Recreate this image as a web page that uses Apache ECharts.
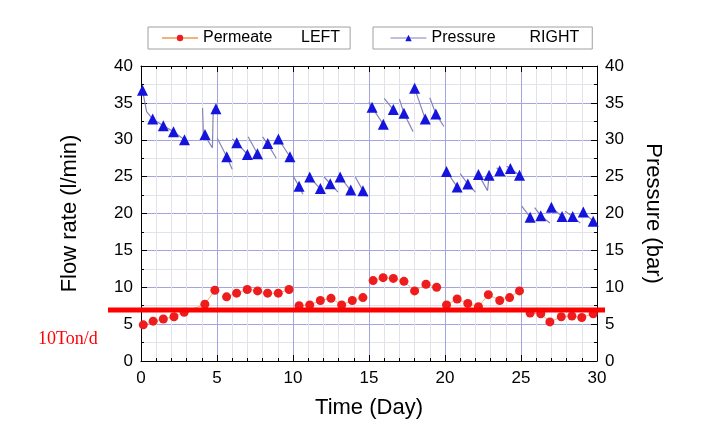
<!DOCTYPE html>
<html>
<head>
<meta charset="utf-8">
<script src="https://cdn.jsdelivr.net/npm/echarts@6/dist/echarts.min.js"></script>
<style>html,body{margin:0;padding:0;background:#fff}#c{width:703px;height:424px}</style>
</head>
<body>
<div id="c"></div>
<script>
// ---- data ----
var xTicks = [0, 5, 10, 15, 20, 25, 30];
var yTicks = [0, 5, 10, 15, 20, 25, 30, 35, 40];

var permeateDays = [0.15,0.8,1.47,2.17,2.84,4.2,4.86, 5.63,6.29,6.99,7.67,8.33,9.03,9.74,
  10.4,11.1,11.8,12.5,13.2,13.9,14.6, 15.27,15.93,16.6,17.3,18.0,18.75,19.45,
  20.1,20.8,21.5,22.2,22.85,23.6,24.25,24.9, 25.6,26.3,26.9,27.65,28.35,29.0,29.75];
var permeateFlow = [4.9,5.4,5.7,6.0,6.6,7.7,9.6, 8.7,9.2,9.7,9.5,9.2,9.2,9.7,
  7.5,7.6,8.2,8.5,7.6,8.2,8.6, 10.9,11.3,11.2,10.8,9.5,10.4,10.0,
  7.6,8.4,7.8,7.35,9.0,8.2,8.6,9.5, 6.5,6.4,5.3,6.0,6.1,5.9,6.4];

var pressureDays = [0.1,0.77,1.47,2.14,2.86, 4.21,4.93,5.64,6.3,7.0,7.66,8.34,9.04,9.8,
  10.4,11.1,11.8,12.45,13.1,13.8,14.6, 15.2,15.94,16.6,17.3,18.0,18.7,19.4,
  20.1,20.8,21.5,22.2,22.9,23.6,24.3,24.9, 25.6,26.3,27.0,27.7,28.4,29.1,29.75];
var pressureBar = [36.7,32.8,31.9,31.1,30.0, 30.7,34.2,27.7,29.6,28.0,28.1,29.5,30.1,27.7,
  23.7,24.95,23.4,24.05,24.95,23.2,23.1, 34.4,32.1,34.1,33.6,37.0,32.8,33.5,
  25.7,23.6,24.0,25.3,25.2,25.8,26.1,25.2, 19.5,19.7,20.85,19.6,19.6,20.2,18.96];

// continuous pressure recording (sawtooth traces) between daily readings
var pressureTrace = [
  [[0.1,36.7],[0.37,33.8],[0.77,32.8],[1.47,31.9],[2.14,31.1],[2.86,30.0]],
  [[4.05,34.3],[4.1,30.9],[4.21,30.7],[4.7,28.9],[4.75,34.1],[4.93,34.2]],
  [[5.02,30.2],[5.64,27.7],[6.0,26.0]],
  [[6.0,30.1],[6.3,29.6],[7.0,28.0]],
  [[7.05,30.4],[7.66,28.1],[8.0,27.3]],
  [[8.0,30.4],[8.34,29.4],[8.9,27.5]],
  [[9.04,30.1],[9.8,27.7],[10.0,27.4]],
  [[10.0,25.1],[10.4,23.7],[10.65,22.6]],
  [[11.1,24.95],[11.8,23.3]],
  [[12.05,24.95],[12.45,24.05],[12.96,22.9]],
  [[13.1,24.95],[13.8,23.1]],
  [[14.1,24.95],[14.6,23.1],[14.9,22.3]],
  [[15.0,35.1],[15.2,34.4],[15.94,32.1]],
  [[16.0,35.6],[16.6,34.1],[16.8,33.6]],
  [[17.0,35.5],[17.3,33.6],[17.9,31.1]],
  [[18.0,37.0],[18.7,32.8],[18.85,32.3]],
  [[19.0,35.7],[19.4,33.5],[19.93,31.8]],
  [[20.1,25.7],[20.8,23.6]],
  [[21.0,25.4],[21.5,24.0],[22.0,22.9]],
  [[22.2,25.3],[22.8,23.1],[22.9,25.2]],
  [[23.4,26.2],[23.6,25.8],[24.0,25.0]],
  [[24.05,26.4],[24.3,26.1],[24.9,25.2]],
  [[25.05,21.0],[25.6,19.5],[25.8,19.1]],
  [[25.9,20.8],[26.3,19.7],[26.9,18.7]],
  [[27.0,20.85],[27.7,19.6]],
  [[27.9,20.3],[28.4,19.6],[28.9,18.7]],
  [[29.1,20.2],[29.75,18.96],[29.9,18.6]]
];

var thresholdValue = 6.9;
var thresholdLabel = '10Ton/d';

// ---- build series data ----
var permeateData = [];
for (var i = 0; i < permeateDays.length; i++) {
  if (i > 0 && Math.floor(permeateDays[i] / 5) !== Math.floor(permeateDays[i - 1] / 5)) {
    permeateData.push([permeateDays[i], '-']);
  }
  permeateData.push([permeateDays[i], permeateFlow[i]]);
}
var pressureData = pressureDays.map(function (d, i) { return [d, pressureBar[i]]; });
var traceData = [];
pressureTrace.forEach(function (seg) {
  seg.forEach(function (p) { traceData.push(p); });
  traceData.push([seg[seg.length - 1][0], '-']);
});

var FONT = 'Liberation Sans, Arial, sans-serif';
var chart = echarts.init(document.getElementById('c'), null, { renderer: 'canvas' });

function valueAxisX(pos, showLabel) {
  return {
    type: 'value', position: pos, min: 0, max: 30, interval: 5,
    axisLine: { show: true, onZero: false, lineStyle: { color: '#000', width: 1 } },
    axisTick: { show: true, inside: true, length: 6, lineStyle: { color: '#000' } },
    minorTick: { show: true, splitNumber: 5, length: 3, lineStyle: { color: '#000' } },
    axisLabel: { show: showLabel, color: '#000', fontSize: 17, fontFamily: FONT, margin: 9 },
    splitLine: { show: showLabel, lineStyle: { color: '#a4a4e2', width: 1 } },
    minorSplitLine: { show: showLabel, lineStyle: { color: '#e2e2ea', width: 1 } }
  };
}
function valueAxisY(pos, name, rot, gap, grid) {
  return {
    type: 'value', position: pos, min: 0, max: 40, interval: 5,
    name: name, nameLocation: 'middle', nameGap: gap, nameRotate: rot,
    nameTextStyle: { color: '#000', fontSize: 22, fontFamily: FONT },
    axisLine: { show: true, onZero: false, lineStyle: { color: '#000', width: 1 } },
    axisTick: { show: true, inside: true, length: 6, lineStyle: { color: '#000' } },
    minorTick: { show: true, splitNumber: 2, length: 3, lineStyle: { color: '#000' } },
    axisLabel: { color: '#000', fontSize: 17, fontFamily: FONT, margin: 8 },
    splitLine: { show: grid, lineStyle: { color: '#a4a4e2', width: 1 } },
    minorSplitLine: { show: grid, lineStyle: { color: '#e2e2ea', width: 1 } }
  };
}

var xBottom = valueAxisX('bottom', true);
xBottom.name = 'Time (Day)';
xBottom.nameLocation = 'middle';
xBottom.nameGap = 36;
xBottom.nameTextStyle = { color: '#000', fontSize: 22, fontFamily: FONT };

function legendFor(name, side, left, padL, padR) {
  return {
    show: true, left: left, top: 27,
    data: [name], orient: 'horizontal',
    borderColor: '#a0a0a0', borderWidth: 1, padding: [3, padR, 3, padL],
    itemWidth: 36, itemHeight: 8, itemGap: 6,
    formatter: function (n) { return '{a|' + n + '}{b|' + side + '}'; },
    textStyle: {
      color: '#000', fontFamily: FONT, fontSize: 16,
      rich: { a: { width: 98, fontSize: 16, fontFamily: FONT, color: '#000' },
              b: { fontSize: 16, fontFamily: FONT, color: '#000' } }
    }
  };
}
var leg1 = legendFor('Permeate', 'LEFT', 148, 13, 10);
var leg2 = legendFor('Pressure', 'RIGHT', 373, 17, 13);
leg2.data = [{ name: 'Pressure', lineStyle: { color: '#8080b8', width: 1, opacity: 1 } }];

chart.setOption({
  animation: false,
  backgroundColor: '#fff',
  grid: { left: 141, right: 106, top: 66, bottom: 62, containLabel: false },
  legend: [leg1, leg2],
  xAxis: [xBottom, valueAxisX('top', false)],
  yAxis: [valueAxisY('left', 'Flow rate (l/min)', 90, 60, true),
          valueAxisY('right', 'Pressure (bar)', -90, 45, false)],
  series: [
    {
      name: 'Permeate', type: 'line', xAxisIndex: 0, yAxisIndex: 0,
      data: permeateData, connectNulls: false,
      symbol: 'circle', symbolSize: 9,
      itemStyle: { color: '#ee1c1c' },
      lineStyle: { color: '#f2b27a', width: 1 },
      z: 3
    },
    {
      name: 'PressureTrace', type: 'line', xAxisIndex: 0, yAxisIndex: 1,
      data: traceData, connectNulls: false, symbol: 'none',
      lineStyle: { color: '#8585b5', width: 1.2 }, z: 2, silent: true
    },
    {
      name: 'Pressure', type: 'line', xAxisIndex: 0, yAxisIndex: 1,
      data: pressureData, symbol: 'triangle', symbolSize: 11,
      itemStyle: { color: '#1414dc' },
      lineStyle: { width: 0, opacity: 0 }, z: 4
    }
  ]
});

// threshold line (extends beyond the plot frame) and its label
var yPix = chart.convertToPixel({ yAxisIndex: 0 }, thresholdValue);
chart.setOption({
  graphic: [
    { type: 'line', z: 100, shape: { x1: 108, y1: yPix, x2: 605, y2: yPix },
      style: { stroke: '#ff0000', lineWidth: 5 } },
    { type: 'text', z: 100, left: 38, top: yPix + 20,
      style: { text: thresholdLabel, fill: '#ff0000', font: '18px "Liberation Serif", "DejaVu Serif", serif' } }
  ]
});
</script>
</body>
</html>
